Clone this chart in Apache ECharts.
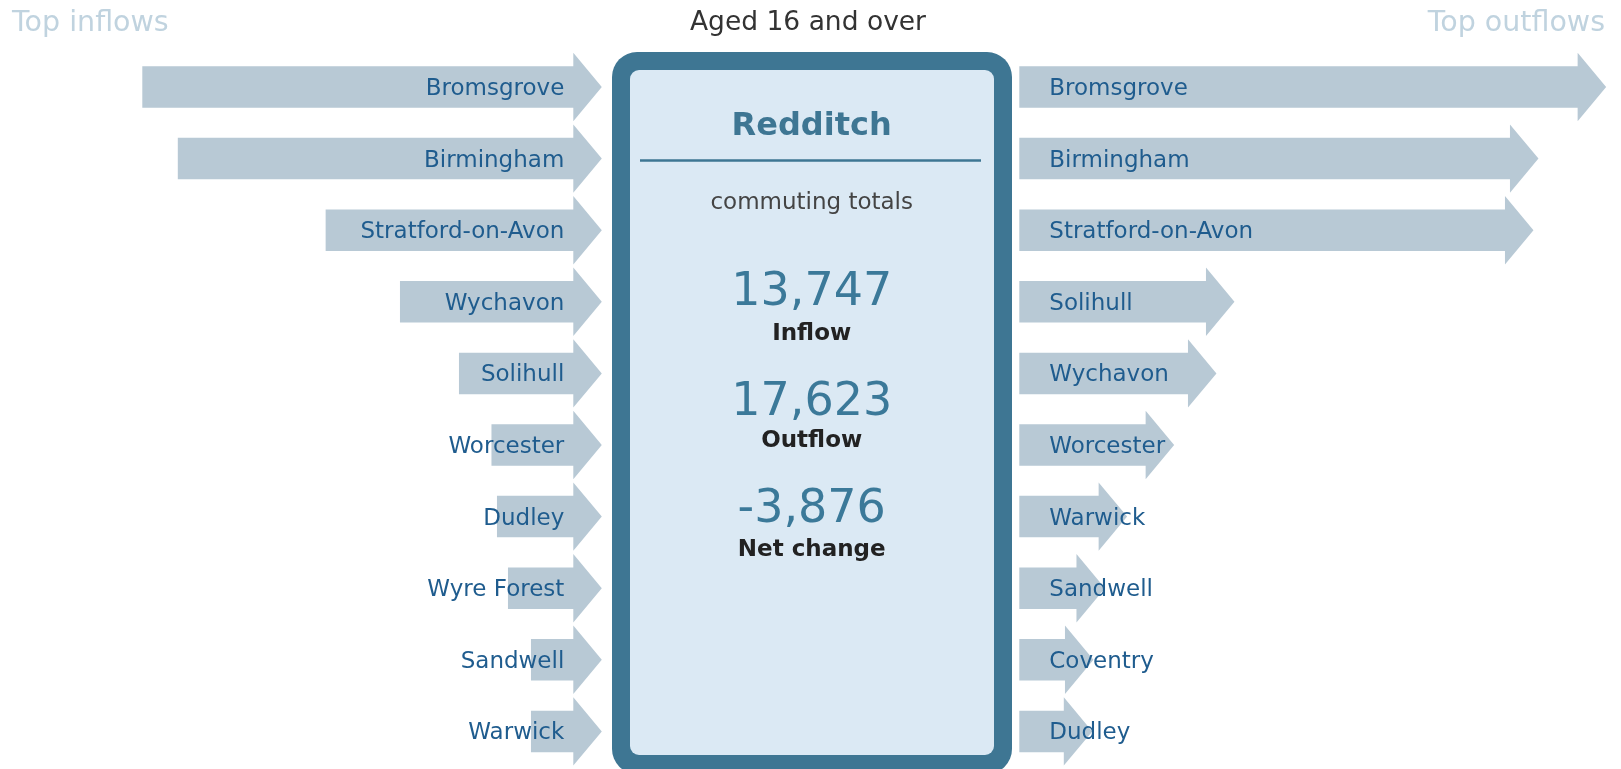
<!DOCTYPE html>
<html>
<head>
<meta charset="utf-8">
<script src="https://cdn.jsdelivr.net/npm/echarts@6/dist/echarts.min.js"></script>
<style>
html,body{margin:0;padding:0;background:#fff;}
#chart{width:1621px;height:769px;}
</style>
</head>
<body>
<div id="chart"></div>
<script>
// ---- Data ----
var inflowPlaces = ['Bromsgrove','Birmingham','Stratford-on-Avon','Wychavon','Solihull','Worcester','Dudley','Wyre Forest','Sandwell','Warwick'];
var inflowValues = [2586, 2373, 1486, 1040, 686, 491, 458, 392, 254, 254];
var outflowPlaces = ['Bromsgrove','Birmingham','Stratford-on-Avon','Solihull','Wychavon','Worcester','Warwick','Sandwell','Coventry','Dudley'];
var outflowValues = [3350, 2944, 2914, 1120, 1012, 758, 476, 343, 274, 267];
var areaName = 'Redditch';
var subtitle = 'Aged 16 and over';
var totalLabels = ['Inflow','Outflow','Net change'];
var totalValues = [13747, 17623, -3876];

function fmt(n){
  var s = Math.abs(n).toString().replace(/\B(?=(\d{3})+(?!\d))/g, ',');
  return (n < 0 ? '-' : '') + s;
}

var FONT = '"DejaVu Sans", Verdana, sans-serif';
var ARROW = '#b8c9d5';
var LABEL = '#1f5c8e';
var BORDER = '#3e7693';

function makeRender(side){
  return function(params, api){
    var idx = api.value(1);
    var p0 = api.coord([0, idx]);
    var p1 = api.coord([api.value(0), idx]);
    var band = api.size([0, 1])[1];
    var cy = p0[1];
    var l = Math.min(p0[0], p1[0]);
    var r = Math.max(p0[0], p1[0]);
    var hr = band * 0.29, hh = band * 0.478, hl = band * 0.398;
    var pts = [[l, cy - hr],[r, cy - hr],[r, cy - hh],[r + hl, cy],[r, cy + hh],[r, cy + hr],[l, cy + hr]];
    var name = side === 'in' ? inflowPlaces[idx] : outflowPlaces[idx];
    return {
      type: 'group',
      children: [
        { type: 'polygon', shape: { points: pts }, style: { fill: ARROW } },
        { type: 'text', style: {
            text: name,
            x: side === 'in' ? p0[0] - 9 : p0[0] + 30,
            y: cy + 2,
            textAlign: side === 'in' ? 'right' : 'left',
            textVerticalAlign: 'middle',
            fontFamily: FONT, fontSize: 23, fill: LABEL
        } }
      ]
    };
  };
}

var chart = echarts.init(document.getElementById('chart'), null, {renderer: 'canvas'});

var cx = 811.7;
var graphics = [
  { type: 'rect', shape: { x: 612, y: 52, width: 400, height: 722, r: 25 }, style: { fill: BORDER }, z: 1 },
  { type: 'rect', shape: { x: 630, y: 70, width: 364, height: 685, r: 9 }, style: { fill: '#dbe9f4' }, z: 2 },
  { type: 'line', shape: { x1: 640, y1: 160.5, x2: 981, y2: 160.5 }, style: { stroke: BORDER, lineWidth: 2.5 }, z: 3 },
  { type: 'text', z: 3, style: { text: 'Top inflows', x: 12, y: 24, textAlign: 'left', textVerticalAlign: 'middle', fontFamily: FONT, fontSize: 28.5, fill: '#c0d3df' } },
  { type: 'text', z: 3, style: { text: 'Top outflows', x: 1605, y: 24, textAlign: 'right', textVerticalAlign: 'middle', fontFamily: FONT, fontSize: 28.5, fill: '#c0d3df' } },
  { type: 'text', z: 3, style: { text: subtitle, x: 808, y: 23.5, textAlign: 'center', textVerticalAlign: 'middle', fontFamily: FONT, fontSize: 26.5, fill: '#333333' } },
  { type: 'text', z: 3, style: { text: areaName, x: cx, y: 127, textAlign: 'center', textVerticalAlign: 'middle', fontFamily: FONT, fontSize: 32, fontWeight: 'bold', fill: BORDER } },
  { type: 'text', z: 3, style: { text: 'commuting totals', x: cx, y: 203, textAlign: 'center', textVerticalAlign: 'middle', fontFamily: FONT, fontSize: 23, fill: '#444444' } }
];
var numY = [292.5, 402, 509.5];
var labY = [333.5, 440.5, 549.5];
for (var i = 0; i < totalValues.length; i++) {
  graphics.push({ type: 'text', z: 3, style: { text: fmt(totalValues[i]), x: cx, y: numY[i] + 1, textAlign: 'center', textVerticalAlign: 'middle', fontFamily: FONT, fontSize: 46, fill: '#3b7999' } });
  graphics.push({ type: 'text', z: 3, style: { text: totalLabels[i], x: cx, y: labY[i] + 1, textAlign: 'center', textVerticalAlign: 'middle', fontFamily: FONT, fontSize: 23, fontWeight: 'bold', fill: '#222222' } });
}

var option = {
  animation: false,
  backgroundColor: '#ffffff',
  grid: [
    { left: 73.3, width: 500, top: 51.2, height: 716 },
    { left: 1019.3, width: 600, top: 51.2, height: 716 }
  ],
  xAxis: [
    { type: 'value', gridIndex: 0, min: 0, max: 3000, inverse: true, show: false },
    { type: 'value', gridIndex: 1, min: 0, max: 3600, show: false }
  ],
  yAxis: [
    { type: 'category', gridIndex: 0, data: inflowPlaces, inverse: true, show: false },
    { type: 'category', gridIndex: 1, data: outflowPlaces, inverse: true, show: false }
  ],
  graphic: graphics,
  series: [
    { type: 'custom', xAxisIndex: 0, yAxisIndex: 0, clip: false, renderItem: makeRender('in'),
      encode: { x: 0, y: 1 }, data: inflowValues.map(function(v, i){ return [v, i]; }) },
    { type: 'custom', xAxisIndex: 1, yAxisIndex: 1, clip: false, renderItem: makeRender('out'),
      encode: { x: 0, y: 1 }, data: outflowValues.map(function(v, i){ return [v, i]; }) }
  ]
};
chart.setOption(option);
</script>
</body>
</html>
